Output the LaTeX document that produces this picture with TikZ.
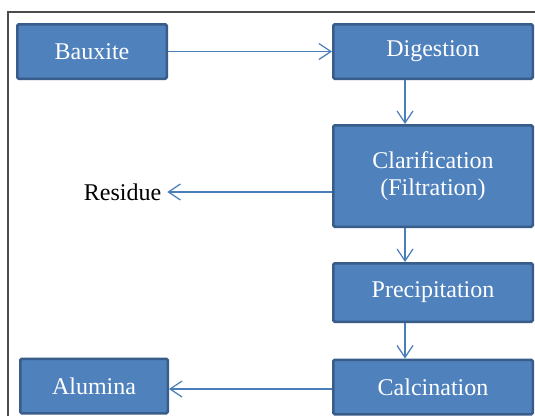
\documentclass[tikz,border=0pt]{standalone}
\usepackage{fontspec}
\setmainfont{LiberationSerif}[Extension=.ttf, UprightFont=*-Regular, BoldFont=*-Bold]
\usetikzlibrary{arrows.meta}
\definecolor{boxfill}{HTML}{4F81BD}
\definecolor{boxline}{HTML}{385D8A}
\definecolor{flowline}{HTML}{4A7EBB}
\tikzstyle{stage} = [rectangle, rounded corners=1.5pt, fill=boxfill, draw=boxline, line width=2.5pt, text=white, align=center, font=\fontsize{24}{27}\selectfont]
\tikzstyle{flow} = [draw=flowline, line width=1.2pt, -{Straight Barb[length=12pt, width=16pt, line width=1.2pt]}]
\begin{document}
\begin{tikzpicture}[x=1pt, y=-1pt]%
				\clip (0,0) rectangle (535,416);%
				\fill[white] (0,0) rectangle (535,416);%
				\draw[black!70, line width=1.5pt] (8,416) -- (8,12) -- (540,12);%
				\node [stage, minimum width=149.5pt, minimum height=54.5pt] (baux) at (92,51.5) {Bauxite};%
				\node [stage, minimum width=199.5pt, minimum height=54.5pt] (dig) at (433,51.5) {Digestion};%
				\node [stage, minimum width=199.5pt, minimum height=101.5pt] (clar) at (433,176) {Clarification\\(Filtration)};%
				\node [stage, minimum width=199.5pt, minimum height=58.5pt] (prec) at (433,292.5) {Precipitation};%
				\node [stage, minimum width=199.5pt, minimum height=54.5pt] (calc) at (433,387) {Calcination};%
				\node [stage, minimum width=147.5pt, minimum height=54.5pt] (alum) at (94,386) {Alumina};%
				\node [font=\fontsize{24}{27}\selectfont, inner sep=6pt] (res) at (122.5,192) {Residue};%
				\coordinate (trunk) at (405,0);%
				\draw[flow] (baux) -- (dig);%
				\draw[flow] (dig.south -| trunk) -- (clar.north -| trunk);%
				\draw[flow] (clar.west |- res.east) -- (res.east);%
				\draw[flow] (clar.south -| trunk) -- (prec.north -| trunk);%
				\draw[flow] (prec.south -| trunk) -- (calc.north -| trunk);%
				\draw[flow] (calc.west |- 0,389) -- (alum.east |- 0,389);%
	\end{tikzpicture}
\end{document}
